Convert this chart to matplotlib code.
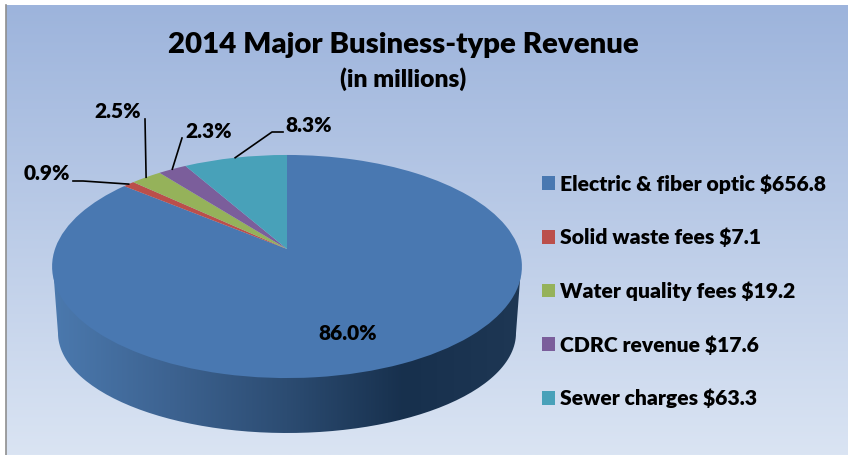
import numpy as np
import matplotlib
matplotlib.use("Agg")
import matplotlib.pyplot as plt
from matplotlib.colors import LinearSegmentedColormap
from matplotlib.patches import PathPatch
from matplotlib.path import Path
from matplotlib.transforms import Transform

plt.rcParams["font.family"] = ["Lato", "DejaVu Sans"]
plt.rcParams["font.weight"] = "heavy"

# Chart values
categories = ["Electric & fiber optic", "Solid waste fees", "Water quality fees",
              "CDRC revenue", "Sewer charges"]
revenue = [656.8, 7.1, 19.2, 17.6, 63.3]
title = "2014 Major Business-type Revenue"
subtitle = "(in millions)"

# Style and layout, all in image pixels
colors = ["#4978B1", "#BB4F4B", "#95B25A", "#7B5E9B", "#48A1B9"]
side_colors = ["#4B79AE", "#3D6391", "#2C4C72", "#17304D", "#1E3754"]
apex_x, apex_y = 287, 249
label_pos = [(348, 333), (47, 174), (118, 112), (209, 131), (309, 126)]
# extra leader points between the slice edge and its label, none for the big slice
leader_pts = [None,
              [(83, 181), (73, 181)],
              [(145, 119)],
              [(182, 138)],
              [(272, 132), (283, 132)]]


class TiltedPie(Transform):
    """Perspective view of the unit circle, far edge at the top."""
    input_dims = 2
    output_dims = 2
    is_separable = False
    has_inverse = False

    def transform_non_affine(self, values):
        values = np.asarray(values)
        depth = 1 + 0.157 * values[:, 1]
        px = apex_x + 232 * values[:, 0] / depth
        py = apex_y - 108.8 * values[:, 1] / depth
        return np.column_stack([px, py])


fig = plt.figure(figsize=(8.51, 4.55), dpi=100)
ax = fig.add_axes([0, 0, 1, 1])

wedges, _ = ax.pie(revenue, colors=colors, startangle=90, counterclock=False,
                   wedgeprops={"linewidth": 0})
ax.set_aspect("auto")
ax.set_xlim(0, 851)
ax.set_ylim(455, 0)
ax.axis("off")

tilt = TiltedPie()
for w in wedges:
    w.set_transform(tilt + ax.transData)
    w.set_zorder(3)

# Background panel
bg_cmap = LinearSegmentedColormap.from_list("bg", ["#9DB4DC", "#DAE4F3"])
ax.imshow(np.linspace(0, 1, 256).reshape(-1, 1), cmap=bg_cmap, aspect="auto",
          extent=(6, 848, 455, 5), zorder=0)
ax.plot([5.5, 5.5], [5, 455], color="#8F8F8F", lw=1.2, zorder=1)

# Side of the disc, the top edge sits under the face so no seam shows
t = np.linspace(np.pi, 0, 120)
top_rim = np.column_stack([287 + 234 * np.cos(t), 267 + 108 * np.sin(t)])
low_rim = np.column_stack([287 + 229 * np.cos(t[::-1]), 333 + 100 * np.sin(t[::-1])])
side_path = Path(np.vstack([top_rim, low_rim, top_rim[:1]]))
side_cmap = LinearSegmentedColormap.from_list("side", side_colors)
side = ax.imshow(np.linspace(0, 1, 256).reshape(1, -1), cmap=side_cmap, aspect="auto",
                 extent=(52, 522, 440, 260), zorder=2)
side.set_clip_path(PathPatch(side_path, transform=ax.transData))

# Titles
ax.text(403, 45, title, ha="center", va="center", fontsize=21.2, color="black", zorder=5)
ax.text(403, 79, subtitle, ha="center", va="center", fontsize=17.7, color="black", zorder=5)

# Percent labels and leader lines
total = sum(revenue)
for w, val, pos, pts in zip(wedges, revenue, label_pos, leader_pts):
    ax.text(pos[0], pos[1], f"{val / total * 100:.1f}%", ha="center", va="center",
            fontsize=15, color="black", zorder=5)
    if pts is None:
        continue
    mid = np.radians((w.theta1 + w.theta2) / 2)
    edge = tilt.transform(np.array([[np.cos(mid), np.sin(mid)]]))[0]
    xs = [edge[0]] + [p[0] for p in pts]
    ys = [edge[1]] + [p[1] for p in pts]
    ax.plot(xs, ys, color="black", lw=1.2, zorder=4)

# Legend
legend_labels = [f"{c} ${v}" for c, v in zip(categories, revenue)]
leg = ax.legend(wedges, legend_labels, loc="upper left", bbox_to_anchor=(542 / 851, 1 - 174 / 455),
                frameon=False, fontsize=15.2, handlelength=0.62, handleheight=0.62,
                handletextpad=0.24, labelspacing=1.62, borderpad=0, borderaxespad=0)
leg.set_zorder(5)

fig.savefig("out.png", dpi=100)
